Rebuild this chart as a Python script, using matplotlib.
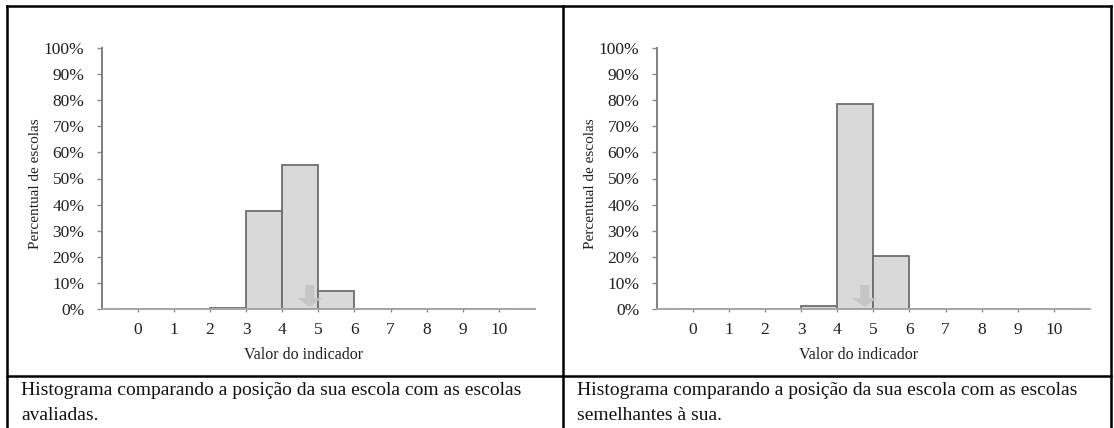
import matplotlib
matplotlib.use('Agg')
import matplotlib.pyplot as plt
from matplotlib.lines import Line2D

plt.rcParams['font.family'] = ['Liberation Serif', 'DejaVu Serif']

# histogram bins (lower edge, upper edge) on the indicator scale
bin_lo = [-0.5, 0, 1, 2, 3, 4, 5, 6, 7, 8, 9, 10]
bin_hi = [0, 1, 2, 3, 4, 5, 6, 7, 8, 9, 10, 10.5]

# percent of schools per bin
pct_all = [0, 0, 0, 0.4, 37.6, 55.1, 6.9, 0, 0, 0, 0, 0]
pct_similar = [0, 0, 0, 0, 1.1, 78.6, 20.3, 0, 0, 0, 0, 0]

school_value = 4.76   # where the arrow points
x_ticks = list(range(0, 11))
y_ticks = list(range(0, 101, 10))

captions = [
    ['Histograma comparando a posição da sua escola com as escolas', 'avaliadas.'],
    ['Histograma comparando a posição da sua escola com as escolas', 'semelhantes à sua.'],
]

W, H = 1114, 428
fig = plt.figure(figsize=(W / 100, H / 100), dpi=100)

def px(x, y):
    return x / W, 1 - y / H

ax_left = [101.7, 656.7]
ax_w = 433.3
ax_top, ax_bot = 48, 309

for i, vals in enumerate([pct_all, pct_similar]):
    x0, y0 = px(ax_left[i], ax_bot)
    ax = fig.add_axes([x0, y0, ax_w / W, (ax_bot - ax_top) / H])
    widths = [hi - lo for lo, hi in zip(bin_lo, bin_hi)]
    ax.bar(bin_lo, vals, width=widths, align='edge', color='#d9d9d9',
           edgecolor='#6e6e6e', linewidth=1.3, zorder=2)
    ax.arrow(school_value, 9.2, 0, -8.4, width=0.25, head_width=0.7,
             head_length=3.4, length_includes_head=True, color='#c4c4c4',
             alpha=0.9, zorder=3, linewidth=0)
    ax.set_xlim(-1, 11)
    ax.set_ylim(0, 100)
    for s in ['top', 'right']:
        ax.spines[s].set_visible(False)
    ax.spines['left'].set_color('#7f7f7f')
    ax.spines['left'].set_linewidth(1.4)
    ax.spines['bottom'].set_color('#a6a6a6')
    ax.spines['bottom'].set_linewidth(1.4)
    ax.set_xticks(x_ticks)
    ax.set_xticklabels([str(t) for t in x_ticks])
    ax.set_yticks(y_ticks)
    ax.set_yticklabels([f'{t}%' for t in y_ticks])
    ax.tick_params(axis='x', length=2.5, width=1, color='#8a8a8a', pad=7,
                   labelsize=12.5, labelcolor='#202020')
    ax.tick_params(axis='y', length=3.5, width=1, color='#8a8a8a', pad=9,
                   labelsize=12.5, labelcolor='#202020')
    ax.set_xlabel('Valor do indicador', fontsize=11.5, color='#202020', va='center')
    ax.xaxis.set_label_coords(0.467, -0.175)
    ax.set_ylabel('Percentual de escolas', fontsize=11, color='#202020', va='center')
    ax.yaxis.set_label_coords(-0.153, 0.479)

# table frame
lw = 1.8
frame = [
    ((7, 1111), (6, 6)),
    ((7, 7), (6, 428)),
    ((1111, 1111), (6, 428)),
    ((563, 563), (6, 428)),
    ((7, 1111), (376, 376)),
]
for xs, ys in frame:
    fig.add_artist(Line2D([x / W for x in xs], [1 - y / H for y in ys],
                          color='black', linewidth=lw))

cap_x = [21, 577]
for i, lines in enumerate(captions):
    for j, line in enumerate(lines):
        fx, fy = px(cap_x[i], 395 + 25 * j)
        fig.text(fx, fy, line, fontsize=14, va='baseline', ha='left', color='#111111')

fig.savefig('out.png', dpi=100)
